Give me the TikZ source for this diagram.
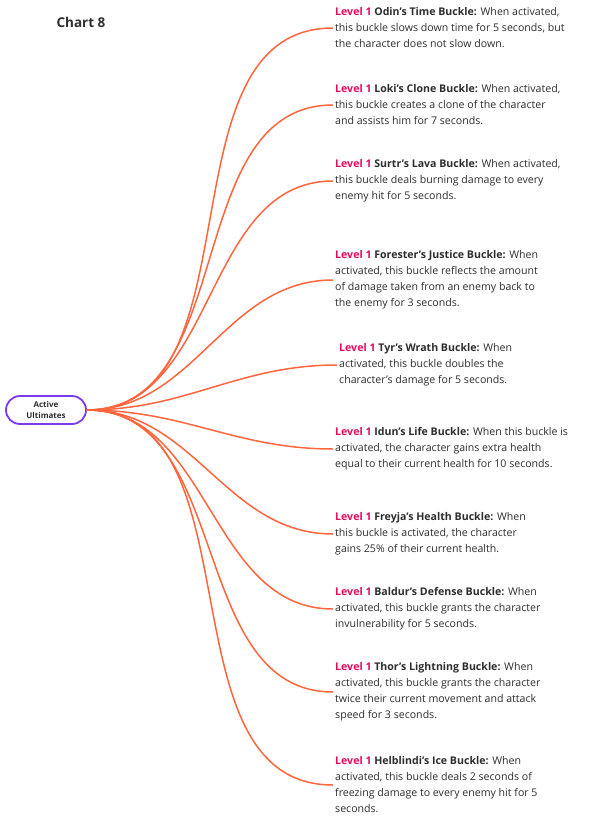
\documentclass[tikz,border=0pt]{standalone}
\usepackage{fontspec}
\setmainfont{Open Sans}
\usetikzlibrary{positioning}
\definecolor{branchorange}{RGB}{255,102,61}
\definecolor{levelpink}{RGB}{228,10,95}
\definecolor{rootpurple}{RGB}{124,58,237}
\definecolor{bodygray}{RGB}{45,45,45}
\tikzstyle{branch} = [
  line width=1.5pt,
  draw=branchorange,
  out=0,
  in=180,
]
\tikzstyle{buckle} = [
  anchor=west,
  align=left,
  inner xsep=2pt,
  inner ysep=0pt,
  text=bodygray,
  font=\fontsize{10.6}{16}\selectfont,
]
\newcommand{\lvl}{\textcolor{levelpink}{\textbf{Level 1}}}

\begin{document}
\begin{tikzpicture}[x=1pt,y=-1pt]
			\useasboundingbox (0,0) rectangle (591,816);
			\node[anchor=west,font=\bfseries\fontsize{13.5}{15}\selectfont,text=bodygray] (title) at (53,22) {Chart 8};

			\node[draw=rootpurple,line width=1.8pt,rounded corners=14pt,minimum width=80pt,minimum height=28pt,align=center,font=\bfseries\fontsize{8}{11}\selectfont,text=bodygray] (root) at (46,410) {Active\\Ultimates};

			\node[buckle] (odin) at (333,28) {\lvl{} \textbf{Odin's Time Buckle:} When activated,\\this buckle slows down time for 5 seconds, but\\the character does not slow down.};
			\node[buckle] (loki) at (333,105) {\lvl{} \textbf{Loki's Clone Buckle:} When activated,\\this buckle creates a clone of the character\\and assists him for 7 seconds.};
			\node[buckle] (surtr) at (333,181) {\lvl{} \textbf{Surtr's Lava Buckle:} When activated,\\this buckle deals burning damage to every\\enemy hit for 5 seconds.};
			\node[buckle] (forester) at (333,280) {\lvl{} \textbf{Forester's Justice Buckle:} When\\activated, this buckle reflects the amount\\of damage taken from an enemy back to\\the enemy for 3 seconds.};
			\node[buckle] (tyr) at (337,365) {\lvl{} \textbf{Tyr's Wrath Buckle:} When\\activated, this buckle doubles the\\character's damage for 5 seconds.};
			\node[buckle] (idun) at (333,449) {\lvl{} \textbf{Idun's Life Buckle:} When this buckle is\\activated, the character gains extra health\\equal to their current health for 10 seconds.};
			\node[buckle] (freyja) at (333,534) {\lvl{} \textbf{Freyja's Health Buckle:} When\\this buckle is activated, the character\\gains 25\% of their current health.};
			\node[buckle] (baldur) at (333,609) {\lvl{} \textbf{Baldur's Defense Buckle:} When\\activated, this buckle grants the character\\invulnerability for 5 seconds.};
			\node[buckle] (thor) at (333,692) {\lvl{} \textbf{Thor's Lightning Buckle:} When\\activated, this buckle grants the character\\twice their current movement and attack\\speed for 3 seconds.};
			\node[buckle] (helblindi) at (333,785) {\lvl{} \textbf{Helblindi's Ice Buckle:} When\\activated, this buckle deals 2 seconds of\\freezing damage to every enemy hit for 5\\seconds.};

			\foreach \b in {odin,loki,surtr,forester,tyr,idun,freyja,baldur,thor,helblindi}
				\draw[branch] (root.east) to (\b.west);
		\end{tikzpicture}
\end{document}
